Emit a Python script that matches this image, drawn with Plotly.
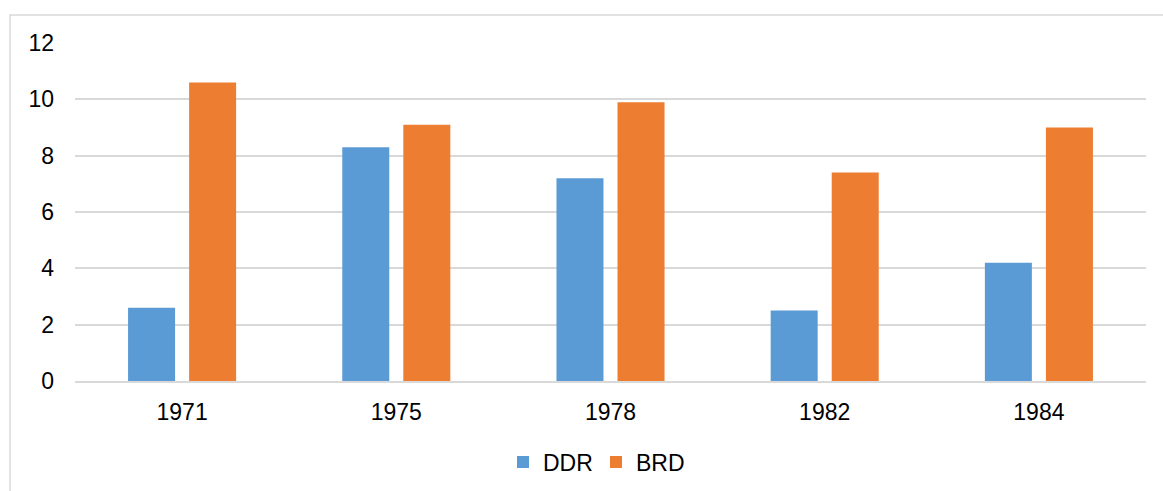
import plotly.graph_objects as go

years = ["1971", "1975", "1978", "1982", "1984"]
ddr = [2.6, 8.3, 7.2, 2.5, 4.2]
brd = [10.6, 9.1, 9.9, 7.4, 9.0]
y_ticks = [0, 2, 4, 6, 8, 10, 12]

W, H = 1163, 491
L, R, T, B = 75, 17, 43, 110
pw, ph = W - L - R, H - T - B

def px(x):
    return (x - L) / pw

def py(y):
    return (H - B - y) / ph

font = "Liberation Sans, Arial, sans-serif"
FS = 23

fig = go.Figure()
fig.add_trace(go.Bar(x=years, y=ddr, name="DDR", marker=dict(color="#5B9BD5", line=dict(width=0))))
fig.add_trace(go.Bar(x=years, y=brd, name="BRD", marker=dict(color="#ED7D31", line=dict(width=0))))

fig.update_layout(
    width=W, height=H,
    margin=dict(l=L, r=R, t=T, b=B, autoexpand=False),
    paper_bgcolor="white", plot_bgcolor="white",
    barmode="group", bargap=0.43, bargroupgap=0.23,
    font=dict(family=font, size=FS, color="#000000"),
    showlegend=True,
    legend=dict(orientation="h", x=px(596), xanchor="center", y=py(462), yanchor="middle",
                font=dict(size=FS), traceorder="normal", itemwidth=30,
                entrywidth=48, entrywidthmode="pixels"),
    xaxis=dict(showgrid=False, showline=True, linecolor="#D9D9D9", linewidth=1.5,
               ticks="", ticklabelstandoff=10, tickfont=dict(size=FS), automargin=False),
    yaxis=dict(range=[0, 12], tickvals=y_ticks, showgrid=True, gridcolor="#D9D9D9", gridwidth=1.5,
               zeroline=False, showline=False, ticks="", ticklabelstandoff=20,
               tickfont=dict(size=FS), automargin=False),
    shapes=[dict(type="path", xref="paper", yref="paper",
                 path=f"M {px(1300)},{py(15)} L {px(10)},{py(15)} L {px(10)},{py(600)}",
                 line=dict(color="#D9D9D9", width=1.5))],
)

fig.write_html("out.html", config={"displayModeBar": False},
               post_script="document.body.style.margin='0';document.body.style.padding='0';document.body.style.overflow='hidden';")
